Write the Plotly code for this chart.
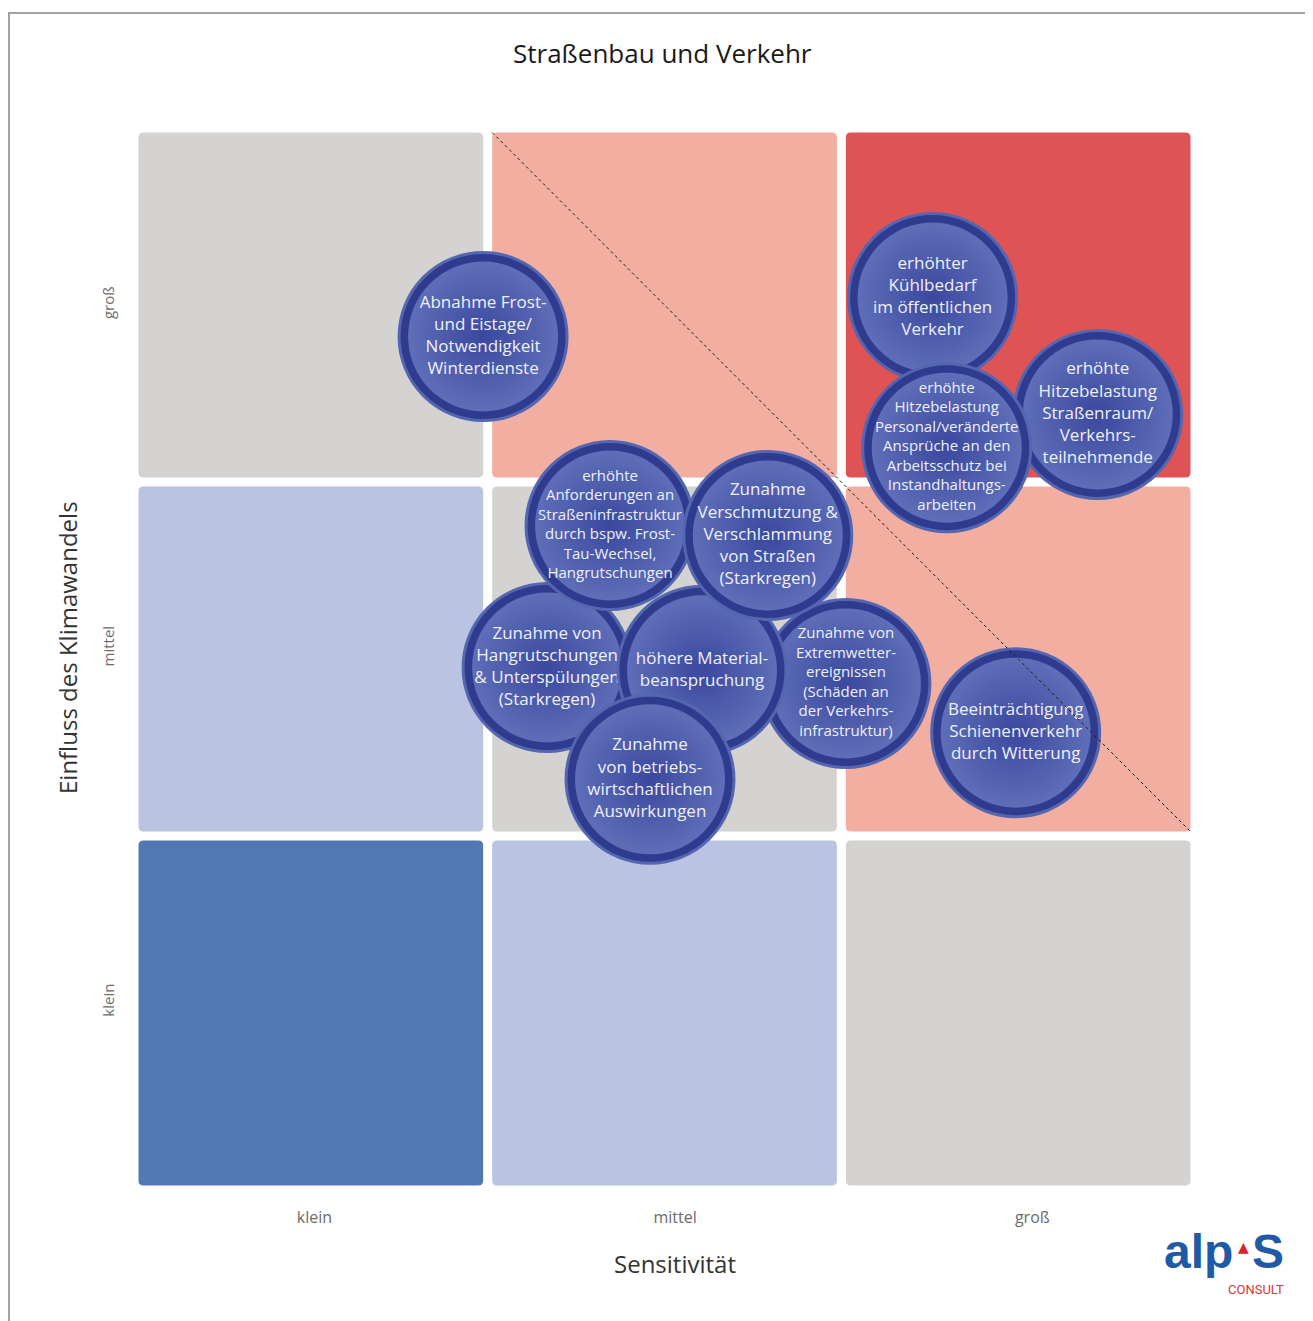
import plotly.graph_objects as go

# ---------------- data ----------------
title_text = "Straßenbau und Verkehr"
x_title = "Sensitivität"
y_title = "Einfluss des Klimawandels"
tick_labels = ["klein", "mittel", "groß"]

# risk level of each cell = sensitivity index + impact index (0..4)
cell_cols = [0, 1, 2]
cell_rows = [0, 1, 2]

bubble_labels = [
    "Zunahme von<br>Hangrutschungen<br>& Unterspülungen<br>(Starkregen)",
    "erhöhte<br>Anforderungen an<br>Straßeninfrastruktur<br>durch bspw. Frost-<br>Tau-Wechsel,<br>Hangrutschungen",
    "Zunahme von<br>Extremwetter-<br>ereignissen<br>(Schäden an<br>der Verkehrs-<br>infrastruktur)",
    "höhere Material-<br>beanspruchung",
    "Zunahme<br>Verschmutzung &<br>Verschlammung<br>von Straßen<br>(Starkregen)",
    "Zunahme<br>von betriebs-<br>wirtschaftlichen<br>Auswirkungen",
    "Beeinträchtigung<br>Schienenverkehr<br>durch Witterung",
    "Abnahme Frost-<br>und Eistage/<br>Notwendigkeit<br>Winterdienste",
    "erhöhter<br>Kühlbedarf<br>im öffentlichen<br>Verkehr",
    "erhöhte<br>Hitzebelastung<br>Straßenraum/<br>Verkehrs-<br>teilnehmende",
    "erhöhte<br>Hitzebelastung<br>Personal/veränderte<br>Ansprüche an den<br>Arbeitsschutz bei<br>Instandhaltungs-<br>arbeiten",
]
bubble_sensitivity = [1.168, 1.346, 2.013, 1.606, 1.792, 1.459, 2.493, 0.987, 2.258, 2.725, 2.298]
bubble_impact = [1.476, 1.877, 1.431, 1.468, 1.849, 1.160, 1.292, 2.411, 2.521, 2.191, 2.097]

# ---------------- styles ----------------
level_colors = {0: "#5079B4", 1: "#BAC4E2", 2: "#D4D3D1", 3: "#F1AEA1", 4: "#E05355"}
dense_font = {1, 2, 10}  # indices of bubbles with smaller text
GAP = 4.5 / 354.0
RAD = 5.0 / 354.0
BUBBLE_D = 168
INNER_D = 150
TEXT_FONT = "Open Sans, Noto Sans, sans-serif"
LOGO_FONT = "Liberation Sans, Arial, sans-serif"

# page offset of the figure (browser body margin)
OFF = 8
PL, PT, PW, PH = 134, 128, 1061, 1062  # plot area on the page


def px_x(px):
    return (px - PL) / PW


def px_y(py):
    return (PT + PH - py) / PH


fig = go.Figure()


def rounded_rect(x0, x1, y0, y1, r):
    return (f"M {x0+r},{y0} L {x1-r},{y0} Q {x1},{y0} {x1},{y0+r} "
            f"L {x1},{y1-r} Q {x1},{y1} {x1-r},{y1} L {x0+r},{y1} "
            f"Q {x0},{y1} {x0},{y1-r} L {x0},{y0+r} Q {x0},{y0} {x0+r},{y0} Z")


shapes = []
for cx in cell_cols:
    for cy in cell_rows:
        lvl = cx + cy
        shapes.append(dict(
            type="path", xref="x", yref="y", layer="below",
            path=rounded_rect(cx + GAP, cx + 1 - GAP, cy + GAP, cy + 1 - GAP, RAD),
            fillcolor=level_colors[lvl], line=dict(width=0),
        ))

# diagonal dotted line
shapes.append(dict(type="line", xref="x", yref="y", layer="above",
                   x0=1 + GAP, y0=3 - GAP, x1=3 - GAP, y1=1 + GAP,
                   line=dict(color="#1a1a1a", width=1, dash="dot")))

# outer frame
shapes.append(dict(type="rect", xref="paper", yref="paper",
                   x0=px_x(9), x1=1.3, y0=-0.3, y1=px_y(13),
                   line=dict(color="#A3A3A3", width=2), fillcolor="rgba(0,0,0,0)",
                   layer="below"))

for i, (lab, sx, iy) in enumerate(zip(bubble_labels, bubble_sensitivity, bubble_impact)):
    fs = 15 if i in dense_font else 17
    fig.add_trace(go.Scatter(
        x=[sx, sx], y=[iy, iy],
        mode="markers+text",
        text=["", lab],
        textposition="middle center",
        textfont=dict(family=TEXT_FONT, size=fs, color="#EEF0F8"),
        marker=dict(
            size=[BUBBLE_D, INNER_D],
            color=["#2F3B8E", "#5E6EB8"],
            line=dict(color=["#5566B0", "#34429A"], width=[3, 0]),
            gradient=dict(type=["none", "radial"], color=["#2F3B8E", "#3A489E"]),
            opacity=1,
        ),
        hoverinfo="skip",
        showlegend=False,
        cliponaxis=False,
    ))

annotations = [
    dict(text=title_text, xref="paper", yref="paper", x=px_x(662), y=px_y(53),
         showarrow=False, font=dict(family=TEXT_FONT, size=26, color="#1a1a1a"),
         xanchor="center", yanchor="middle"),
    dict(text=x_title, xref="paper", yref="paper", x=px_x(675), y=px_y(1263),
         showarrow=False, font=dict(family=TEXT_FONT, size=24, color="#333333"),
         xanchor="center", yanchor="middle"),
    dict(text=y_title, xref="paper", yref="paper", x=px_x(67), y=px_y(648),
         showarrow=False, textangle=-90, font=dict(family=TEXT_FONT, size=24, color="#333333"),
         xanchor="center", yanchor="middle"),
    # logo
    dict(text="<b>alp</b>", xref="paper", yref="paper", x=px_x(1235), y=px_y(1251),
         showarrow=False, font=dict(family=LOGO_FONT, size=48, color="#1F5AA6"),
         xanchor="right", yanchor="middle"),
    dict(text="▲", xref="paper", yref="paper", x=px_x(1243), y=px_y(1247),
         showarrow=False, font=dict(family="DejaVu Sans", size=14, color="#D8232A"),
         xanchor="center", yanchor="middle"),
    dict(text="<b>S</b>", xref="paper", yref="paper", x=px_x(1250), y=px_y(1251),
         showarrow=False, font=dict(family=LOGO_FONT, size=48, color="#1F5AA6"),
         xanchor="left", yanchor="middle"),
    dict(text="CONSULT", xref="paper", yref="paper", x=px_x(1256), y=px_y(1289),
         showarrow=False, font=dict(family="Roboto, Liberation Sans", size=13, color="#D8343A"),
         xanchor="center", yanchor="middle"),
]

fig.update_layout(
    width=1313 - OFF, height=1321 - OFF,
    margin=dict(l=PL - OFF, r=1313 - PL - PW, t=PT - OFF, b=1321 - PT - PH, pad=0),
    paper_bgcolor="white", plot_bgcolor="white",
    shapes=shapes, annotations=annotations,
    xaxis=dict(range=[0, 3], showgrid=False, zeroline=False, showline=False,
               tickvals=[0.51, 1.53, 2.54], ticktext=tick_labels, ticks="",
               ticklabelstandoff=16,
               tickfont=dict(family=TEXT_FONT, size=16, color="#6B6B6B"), fixedrange=True),
    yaxis=dict(range=[0, 3], showgrid=False, zeroline=False, showline=False,
               tickvals=[0.53, 1.53, 2.5], ticktext=tick_labels, ticks="",
               tickangle=-90, ticklabelstandoff=16,
               tickfont=dict(family=TEXT_FONT, size=15, color="#6B6B6B"), fixedrange=True),
)

fig.write_html("out.html")
